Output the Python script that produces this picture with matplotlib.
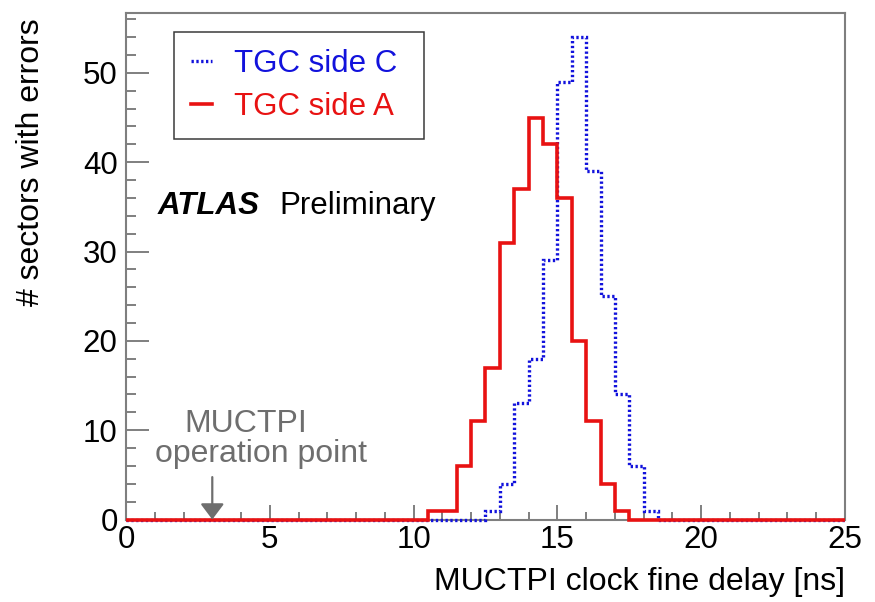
import numpy as np
import matplotlib
matplotlib.use('Agg')
from matplotlib import pyplot as plt
from matplotlib.ticker import MultipleLocator

plt.rcParams['font.family'] = ['Liberation Sans', 'DejaVu Sans']

# 0.5 ns bins from 0 to 25 ns
bin_edges = np.linspace(0, 25, 51)

# number of sectors with errors per bin
side_c = [0] * 25 + [1, 4, 13, 18, 29, 49, 54, 39, 25, 14, 6, 1] + [0] * 13
side_a = [0] * 21 + [1, 1, 6, 11, 17, 31, 37, 45, 42, 36, 20, 11, 4, 1] + [0] * 15

labels = ['TGC side C', 'TGC side A']
operation_point = 3.0

blue = '#1212dc'
red = '#e81212'
grey = '#6e6e6e'
frame = '#7f7f7f'
fs = 22.5

fig = plt.figure(figsize=(8.75, 6.02), dpi=100)
ax = fig.add_axes([0.144, 0.137, 0.8217, 0.8414])

ax.stairs(side_c, bin_edges, color=blue, lw=2.4, linestyle=(0, (0.7, 0.75)),
          label=labels[0], clip_on=False, zorder=3)
ax.stairs(side_a, bin_edges, color=red, lw=2.6, label=labels[1],
          clip_on=False, zorder=4)

ax.set_xlim(0, 25)
ax.set_ylim(0, 56.7)
ax.xaxis.set_major_locator(MultipleLocator(5))
ax.xaxis.set_minor_locator(MultipleLocator(1))
ax.yaxis.set_major_locator(MultipleLocator(10))
ax.yaxis.set_minor_locator(MultipleLocator(2))

ax.tick_params(axis='both', which='both', direction='in', color=frame, width=1.4,
               labelsize=fs, top=False, right=False)
ax.tick_params(axis='x', which='major', length=11, pad=4)
ax.tick_params(axis='x', which='minor', length=5.5)
ax.tick_params(axis='y', which='major', length=16.5, pad=6)
ax.tick_params(axis='y', which='minor', length=7.5)
for s in ax.spines.values():
    s.set_color(frame)
    s.set_linewidth(1.5)

ax.set_xlabel('MUCTPI clock fine delay [ns]', fontsize=23, loc='right')
ax.xaxis.set_label_coords(1.0, -0.094)
ax.set_ylabel('# sectors with errors', fontsize=23, loc='top')
ax.yaxis.set_label_coords(-0.1106, 0.99)

leg = ax.legend(loc='upper left', bbox_to_anchor=(0.0668, 0.757, 0.3477, 0.2055),
                mode='expand', borderaxespad=0, fontsize=fs, handlelength=0.68,
                handletextpad=0.68, borderpad=0.55, labelspacing=0.42,
                fancybox=False, framealpha=1, edgecolor='#3a3a3a',
                labelcolor='linecolor')
leg.get_frame().set_linewidth(1.1)

ax.text(0.044, 0.603, 'ATLAS', transform=ax.transAxes, fontsize=fs,
        fontweight='bold', fontstyle='italic', va='baseline')
ax.text(0.214, 0.603, 'Preliminary', transform=ax.transAxes, fontsize=fs,
        va='baseline')

ax.text(4.17, 9.78, 'MUCTPI', color=grey, fontsize=23, ha='center', va='baseline')
ax.text(4.69, 6.42, 'operation point', color=grey, fontsize=23, ha='center',
        va='baseline')
ax.annotate('', xy=(operation_point, 0), xytext=(operation_point, 4.75),
            arrowprops=dict(arrowstyle='-|>,head_length=0.48,head_width=0.36',
                            mutation_scale=20, color=grey, lw=1.6,
                            shrinkA=0, shrinkB=0), zorder=5)

plt.savefig('out.png', dpi=100)
